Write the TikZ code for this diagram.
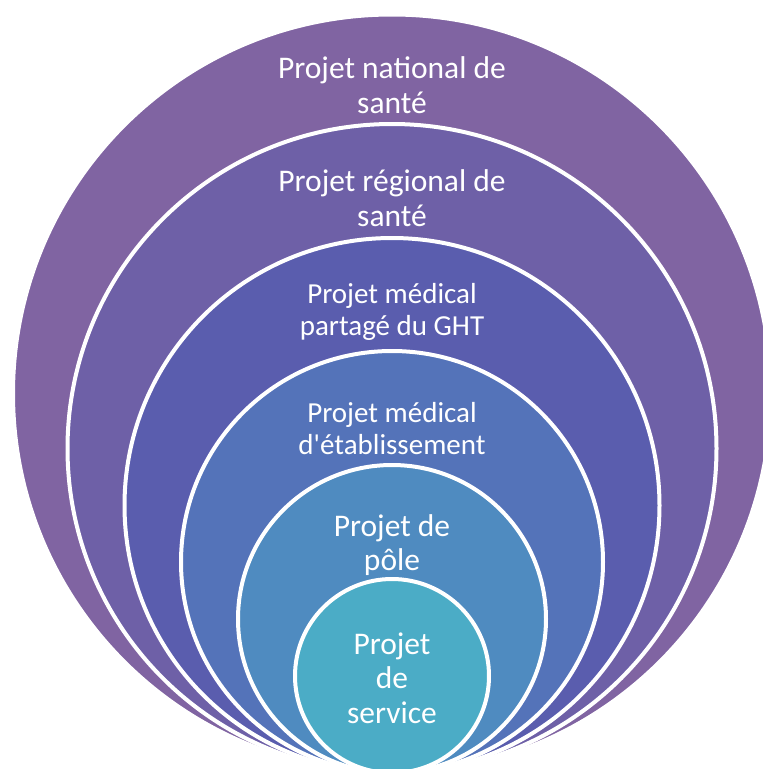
\documentclass[tikz,border=0pt]{standalone}
\usepackage{fontspec}
\setmainfont{Carlito}[Ligatures=TeXOff]
\definecolor{nationalfill}{HTML}{8064A2}
\definecolor{regionalfill}{HTML}{6E60A7}
\definecolor{ghtfill}{HTML}{5A5DAE}
\definecolor{etabfill}{HTML}{5473B9}
\definecolor{polefill}{HTML}{4F8BC0}
\definecolor{servicefill}{HTML}{4BACC6}

\begin{document}
\begin{tikzpicture}[x=1pt, y=-1pt,
    ring/.style={circle, draw=white, line width=4pt, inner sep=0pt},
    lbl/.style={text=white, align=center, inner sep=0pt, font=\fontsize{31.5}{34.6}\selectfont},
    lblsmall/.style={lbl, font=\fontsize{29}{32}\selectfont}]
    \useasboundingbox (0,0) rectangle (763,769);
    \clip (0,0) rectangle (763,769);

    % Nested rings, all touching at the bottom
    \node (nat) [ring, fill=nationalfill, minimum size=758pt] at (392,393.5) {};
    \node (reg) [ring, fill=regionalfill, minimum size=649pt] at (392,448.5) {};
    \node (ght) [ring, fill=ghtfill, minimum size=535pt] at (392,505.5) {};
    \node (etab) [ring, fill=etabfill, minimum size=422pt] at (392,562) {};
    \node (pole) [ring, fill=polefill, minimum size=308pt] at (392,619) {};
    \node (serv) [ring, fill=servicefill, minimum size=194pt] at (392,676) {};

    % Labels
    \node (natL) [lbl] at (392,85) {Projet national de\\santé};
    \node (regL) [lbl] at (392,198) {Projet régional de\\santé};
    \node (ghtL) [lblsmall] at (392,312) {Projet médical\\partagé du GHT};
    \node (etabL) [lblsmall] at (392,429) {Projet médical\\d'établissement};
    \node (poleL) [lbl] at (392,545) {Projet de\\pôle};
    \node (servL) [lbl] at (392,678) {Projet\\de\\service};
\end{tikzpicture}
\end{document}
